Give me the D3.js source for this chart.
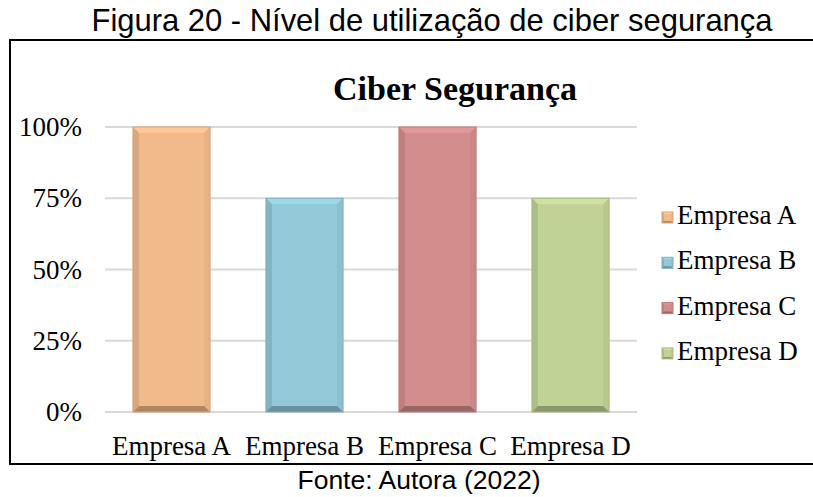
<!DOCTYPE html>
<html>
<head>
<meta charset="utf-8">
<title>Ciber Segurança</title>
<script src="https://cdn.jsdelivr.net/npm/d3@7"></script>
<style>
  body { margin: 0; background: #fff; }
  svg { display: block; }
</style>
</head>
<body>
<script>
// data
const empresas = ["Empresa A", "Empresa B", "Empresa C", "Empresa D"];
const valores = [1.00, 0.75, 1.00, 0.75];
const yTicks = [0, 0.25, 0.5, 0.75, 1];
const cores = ["#F1BA8B", "#92C8D8", "#D38D8C", "#C0D296"];

const W = 813, H = 497;
const serif = "Liberation Serif, Times New Roman, serif";
const sans = "Liberation Sans, Arial, sans-serif";

const svg = d3.select("body").append("svg")
  .attr("width", W).attr("height", H);

// move a text to its own origin and squeeze it a little
function squeeze(sx) {
  return function (sel) {
    sel.each(function () {
      const t = d3.select(this);
      const x = +t.attr("x") || 0, y = +t.attr("y") || 0;
      t.attr("x", 0).attr("y", 0)
        .attr("transform", "translate(" + x + "," + y + ") scale(" + sx + ",1)");
    });
  };
}

// figure caption
svg.append("text")
  .attr("x", 432).attr("y", 31)
  .attr("text-anchor", "middle")
  .style("font-family", sans)
  .style("font-size", "32px")
  .text("Figura 20 - Nível de utilização de ciber segurança")
  .call(squeeze(0.967));

// chart frame (top, left, bottom)
svg.append("path")
  .attr("d", "M813,40 H10 V464 H813")
  .attr("fill", "none").attr("stroke", "#000").attr("stroke-width", 2);

svg.append("text")
  .attr("x", 455).attr("y", 100)
  .attr("text-anchor", "middle")
  .style("font-family", serif)
  .style("font-weight", "bold")
  .style("font-size", "34px")
  .text("Ciber Segurança");

const x = d3.scaleBand().domain(empresas).range([105, 637]).paddingInner(0.42).paddingOuter(0.21);
const y = d3.scaleLinear().domain([0, 1]).range([412, 127]);

// gridlines
svg.append("g").selectAll("line").data(yTicks).join("line")
  .attr("x1", 105).attr("x2", 637)
  .attr("y1", d => y(d)).attr("y2", d => y(d))
  .attr("stroke", "#d9d9d9").attr("stroke-width", 2);

// y axis labels
const yAxis = svg.append("g")
  .attr("transform", "translate(105,0)")
  .call(d3.axisLeft(y).tickValues(yTicks).tickFormat(d3.format(".0%")).tickSize(0).tickPadding(23));
yAxis.select(".domain").remove();
yAxis.selectAll("text")
  .style("font-family", serif)
  .style("font-size", "27px")
  .attr("fill", "#000");

// x axis labels
const xAxis = svg.append("g")
  .attr("transform", "translate(0,412)")
  .call(d3.axisBottom(x).tickSize(0).tickPadding(24));
xAxis.select(".domain").remove();
xAxis.selectAll("text")
  .style("font-family", serif)
  .style("font-size", "27px")
  .attr("fill", "#000")
  .attr("dy", "0.71em");

// bevelled box
function bevelBox(g, x0, y0, x1, y1, c, b) {
  const col = d3.color(c);
  const poly = pts => pts.map(p => p.join(",")).join(" ");
  g.append("rect").attr("x", x0).attr("y", y0).attr("width", x1 - x0).attr("height", y1 - y0)
    .attr("fill", c);
  g.append("polygon").attr("points", poly([[x0, y0], [x1, y0], [x1 - b, y0 + b], [x0 + b, y0 + b]]))
    .attr("fill", col.brighter(0.2));
  g.append("polygon").attr("points", poly([[x0, y0], [x0 + b, y0 + b], [x0 + b, y1 - b], [x0, y1]]))
    .attr("fill", col.darker(0.3));
  g.append("polygon").attr("points", poly([[x1, y0], [x1 - b, y0 + b], [x1 - b, y1 - b], [x1, y1]]))
    .attr("fill", col.darker(0.12));
  g.append("polygon").attr("points", poly([[x0, y1], [x0 + b, y1 - b], [x1 - b, y1 - b], [x1, y1]]))
    .attr("fill", col.darker(0.9));
  g.append("rect").attr("x", x0).attr("y", y0).attr("width", x1 - x0).attr("height", y1 - y0)
    .attr("fill", "none").attr("stroke", col.darker(0.35)).attr("stroke-width", 1);
}

// bars
const bars = svg.append("g");
empresas.forEach((e, i) => {
  bevelBox(bars.append("g"), x(e), y(valores[i]), x(e) + x.bandwidth(), y(0), cores[i], 6);
});

// legend
const legend = svg.append("g");
empresas.forEach((e, i) => {
  const ly = 224 + i * 45.3;
  bevelBox(legend.append("g"), 662, ly - 12, 673, ly - 1, cores[i], 2);
  legend.append("text")
    .attr("x", 677).attr("y", ly)
    .style("font-family", serif)
    .style("font-size", "27px")
    .text(e);
});

// source
svg.append("text")
  .attr("x", 419).attr("y", 489)
  .attr("text-anchor", "middle")
  .style("font-family", sans)
  .style("font-size", "26.5px")
  .text("Fonte: Autora (2022)");
</script>
</body>
</html>
